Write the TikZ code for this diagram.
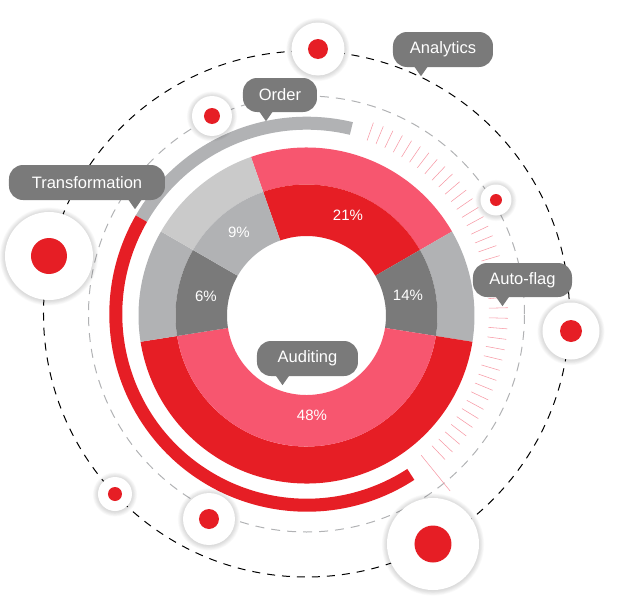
\documentclass[tikz,border=0pt]{standalone}
\usepackage{fontspec}
\setmainfont{Liberation Sans}
\definecolor{cred}{HTML}{E61E25}
\definecolor{cpink}{HTML}{F7566F}
\definecolor{cgrayA}{HTML}{7A7A7A}
\definecolor{cgrayB}{HTML}{B1B2B4}
\definecolor{cgrayC}{HTML}{CACACA}
\definecolor{ctick}{HTML}{F79AA6}
\tikzset{
  bubble/.style={circle,fill=white,inner sep=0pt},
  dot/.style={circle,fill=cred,inner sep=0pt},
  tag/.style={rectangle,rounded corners=14pt,fill=cgrayA,text=white,inner sep=0pt,font=\fontsize{16.5}{19}\selectfont},
  pct/.style={text=white,inner sep=0pt,font=\fontsize{15}{17}\selectfont},
  tickline/.style={ctick,line width=0.55pt}
}
% wedge: start, end, inner radius, outer radius
\newcommand{\wedgeseg}[5]{\fill[#5] (#1:#3) arc[start angle=#1,end angle=#2,radius=#3] -- (#2:#4) arc[start angle=#2,end angle=#1,radius=#4] -- cycle;}
% name, position, radius, dot radius
\newcommand{\bubbleat}[4]{%
  \foreach \k in {0,1,...,7}{\fill[black,opacity=0.02] ([yshift=-0.5pt]#2) circle[radius=#3+\k*0.7+0.2];}
  \node[bubble,minimum size=#3*2pt] (#1) at (#2) {};
  \node[dot,minimum size=#4*2pt] (#1dot) at (#1) {};
}
% name, position, width, height, text, tip x offset
\newcommand{\tagat}[6]{%
  \node[tag,minimum width=#3pt,minimum height=#4pt] (#1) at (#2) {#5};
  \fill[cgrayA] ([xshift=#6pt-7pt,yshift=1pt]#1.south) -- ([xshift=#6pt+7pt,yshift=1pt]#1.south) -- ([xshift=#6pt,yshift=-9pt]#1.south) -- cycle;
}
\begin{document}
\begin{tikzpicture}[x=1pt,y=1pt]
\useasboundingbox (-306,313) rectangle (316,-301);
% dashed orbits
\begin{scope}[shift={(0.5,-1)}]
\draw[black,line width=1pt,dash pattern=on 8pt off 7pt] (0,0) circle[radius=263];
\draw[cgrayB,line width=1pt,dash pattern=on 9pt off 7pt] (0,0) circle[radius=218];
\end{scope}
% ticks
\foreach \a in {70.5,67.5,...,-48}{\draw[tickline] (\a:183) -- (\a:202);}
\draw[tickline] (-51:183) -- (-51:229);
% ring
\begin{scope}[shift={(0.8,-1.2)}]
\wedgeseg{76.5}{150}{184.5}{197.5}{cgrayB}
\wedgeseg{150}{303}{184.5}{197.5}{cred}
\end{scope}
\begin{scope}[shift={(0.5,-2.5)}]
% donut outer
\wedgeseg{30}{109.3}{131}{168}{cpink}
\wedgeseg{-9}{30}{131}{168}{cgrayB}
\wedgeseg{189}{351}{131}{168}{cred}
\wedgeseg{150}{189}{131}{168}{cgrayB}
\wedgeseg{109.3}{150}{131}{168}{cgrayC}
% donut inner
\wedgeseg{30}{109.3}{79.5}{131}{cred}
\wedgeseg{-9}{30}{79.5}{131}{cgrayA}
\wedgeseg{189}{351}{79.5}{131}{cpink}
\wedgeseg{150}{189}{79.5}{131}{cgrayA}
\wedgeseg{109.3}{150}{79.5}{131}{cgrayB}
\end{scope}
% percentages
\node[pct] (p21) at (42,97.5) {21\%};
\node[pct] (p14) at (102,17.5) {14\%};
\node[pct] (p48) at (6,-102.5) {48\%};
\node[pct] (p6) at (-100,16.5) {6\%};
\node[pct] (p9) at (-67,80.5) {9\%};
% bubbles
\bubbleat{b1}{12,264}{26.5}{10}
\bubbleat{b2}{-94,197}{20}{8}
\bubbleat{b3}{190,113}{15.5}{6}
\bubbleat{b4}{265,-18}{28.5}{11}
\bubbleat{b5}{127,-231}{46}{18.5}
\bubbleat{b6}{-97,-206}{26}{10}
\bubbleat{b7}{-191,-181}{17}{7}
\bubbleat{b8}{-257,57}{44}{18}
% tags
\tagat{analytics}{137,263.5}{100}{35}{Analytics}{-22}
\tagat{order}{-26,218}{74}{34}{Order}{-14}
\tagat{transformation}{-219,130.5}{156}{35}{Transformation}{48}
\tagat{autoflag}{216.5,33}{99}{34}{Auto-flag}{-20}
\tagat{auditing}{1.5,-45.5}{101}{35}{Auditing}{-25}
\end{tikzpicture}
\end{document}
